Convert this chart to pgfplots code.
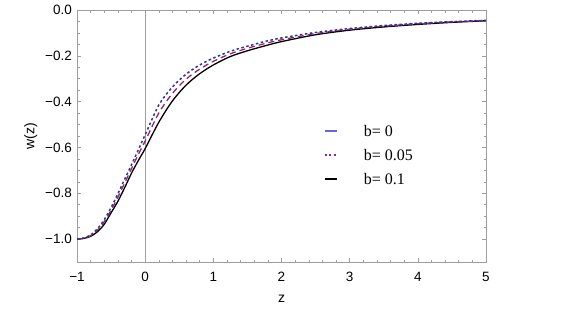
\documentclass[border=0pt]{standalone}
\usepackage{fontspec}
\setmainfont{Liberation Serif}
\newfontfamily\arial{Liberation Sans}
\usepackage{pgfplots}
\pgfplotsset{compat=1.18}
\usepackage{pgfplotstable}

\definecolor{frameg}{gray}{0.62}
\definecolor{dotblue}{RGB}{40,55,165}
\definecolor{dashred}{RGB}{155,35,100}
\definecolor{legblue}{RGB}{95,105,210}
\definecolor{legpurp}{RGB}{150,40,110}

\pgfplotstableread{
x y
-1.0 -1.000
-0.9 -0.995
-0.8 -0.982
-0.7 -0.955
-0.6 -0.915
-0.5 -0.862
-0.4 -0.802
-0.3 -0.738
-0.2 -0.675
-0.1 -0.610
0.0 -0.545
0.2 -0.415
0.4 -0.336
0.6 -0.280
0.8 -0.240
1.0 -0.210
1.25 -0.180
1.5 -0.158
1.75 -0.138
2.0 -0.122
2.5 -0.098
3.0 -0.081
3.5 -0.068
4.0 -0.058
4.5 -0.051
5.0 -0.045
}\bzero

\pgfplotstableread{
x y
-1.0 -1.000
-0.9 -0.996
-0.8 -0.985
-0.7 -0.961
-0.6 -0.924
-0.5 -0.874
-0.4 -0.817
-0.3 -0.755
-0.2 -0.692
-0.1 -0.630
0.0 -0.572
0.2 -0.450
0.4 -0.364
0.6 -0.302
0.8 -0.258
1.0 -0.224
1.25 -0.191
1.5 -0.167
1.75 -0.147
2.0 -0.130
2.5 -0.103
3.0 -0.084
3.5 -0.071
4.0 -0.060
4.5 -0.052
5.0 -0.046
}\bfive

\pgfplotstableread{
x y
-1.0 -1.000
-0.9 -0.997
-0.8 -0.988
-0.7 -0.968
-0.6 -0.935
-0.5 -0.885
-0.4 -0.835
-0.3 -0.775
-0.2 -0.712
-0.1 -0.657
0.0 -0.605
0.2 -0.490
0.4 -0.397
0.6 -0.328
0.8 -0.278
1.0 -0.240
1.25 -0.203
1.5 -0.178
1.75 -0.157
2.0 -0.138
2.5 -0.108
3.0 -0.088
3.5 -0.074
4.0 -0.063
4.5 -0.054
5.0 -0.047
}\bten

\begin{document}
\begin{tikzpicture}
\useasboundingbox (0,0) rectangle (580pt,317pt);
\begin{axis}[
  at={(77pt,55pt)}, anchor=south west,
  scale only axis, width=409pt, height=252pt,
  xmin=-1, xmax=5, ymin=-1.1, ymax=0,
  axis line style={frameg, line width=0.8pt},
  xtick={-1,0,1,2,3,4,5},
  xticklabels={−1,0,1,2,3,4,5},
  ytick={-1,-0.8,-0.6,-0.4,-0.2,0},
  yticklabels={−1.0,−0.8,−0.6,−0.4,−0.2,0.0},
  minor x tick num=4, minor y tick num=3,
  tick align=inside,
  major tick length=4pt, minor tick length=2.5pt,
  every tick/.style={frameg, line width=0.5pt},
  tick label style={font=\arial\fontsize{13.5}{15}\selectfont, black},
  yticklabel style={inner sep=0pt, xshift=-5pt, anchor=east},
  xticklabel style={inner sep=0pt, yshift=-10pt, anchor=north},
  xlabel={z}, ylabel={w(z)},
  label style={font=\arial\fontsize{14}{16}\selectfont},
  ylabel style={at={(axis description cs:-0.113,0.5)}, anchor=center},
  xlabel style={at={(axis description cs:0.5,-0.159)}, anchor=base},
  legend image code/.code={\draw[#1] (0pt,0pt) -- (12pt,0pt);},
  legend style={draw=none, fill=none, inner sep=0pt,
    at={(axis cs:2.62,-0.635)}, anchor=west,
    font=\fontsize{16}{18}\selectfont,
    row sep=8pt, column sep=24pt,
    nodes={text height=11pt, text depth=1pt, inner sep=2pt}},
  legend cell align=left,
]
\addplot[frameg, line width=0.8pt, forget plot] coordinates {(0,-1.1) (0,0)};
\addplot[black, line width=1.3pt, smooth, forget plot] table[x=x,y=y] {\bten};
\addplot[dashred, line width=1.3pt, dash pattern=on 6pt off 4pt, smooth, forget plot] table[x=x,y=y] {\bfive};
\addplot[dotblue, line width=1.5pt, dash pattern=on 2.5pt off 2.5pt, smooth, forget plot] table[x=x,y=y] {\bzero};
\addlegendimage{draw=legblue, line width=2pt}
\addlegendimage{draw=legpurp, line width=2pt, dash pattern=on 2pt off 2.5pt}
\addlegendimage{draw=black, line width=2pt}
\legend{b= 0, b= 0.05, b= 0.1}
\end{axis}
\end{tikzpicture}
\end{document}
